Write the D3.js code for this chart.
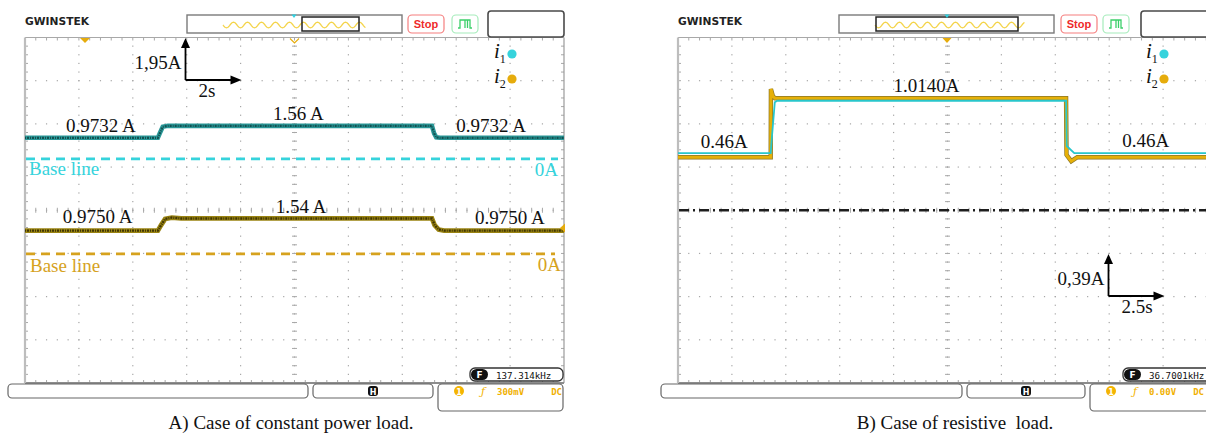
<!DOCTYPE html>
<html><head><meta charset="utf-8">
<script src="https://cdn.jsdelivr.net/npm/d3@7"></script>
<style>html,body{margin:0;padding:0;background:#fff;}svg{display:block;}</style>
</head><body>
<script>
// ---------------- DATA ----------------
// Panel A: constant power load (2 s/div, 1.95 A/div)
const a_i1_t = [0, 4.93, 5.00, 5.11, 5.30, 15.10, 15.18, 15.26, 15.40, 20];
const a_i1_v = [0.95, 0.95, 1.15, 1.45, 1.49, 1.49, 1.15, 0.97, 0.95, 0.95];
const a_i2_t = [0, 4.93, 5.05, 5.20, 5.45, 5.80, 15.10, 15.20, 15.35, 15.55, 20];
const a_i2_v = [1.05, 1.05, 1.30, 1.58, 1.64, 1.60, 1.60, 1.30, 1.10, 1.05, 1.05];
const a_labels = [
  {t: "0.9732 A", x: 1.52, v: 1.22, ch: 0},
  {t: "1.56 A", x: 9.2, v: 1.74, ch: 0},
  {t: "0.9732 A", x: 16.0, v: 1.22, ch: 0},
  {t: "0.9750 A", x: 1.4, v: 1.40, ch: 1},
  {t: "1.54 A", x: 9.3, v: 1.86, ch: 1},
  {t: "0.9750 A", x: 16.7, v: 1.34, ch: 1}
];
// Panel B: resistive load (2.5 s/div, 0.39 A/div)
const b_i1_t = [0, 4.30, 4.33, 4.49, 4.60, 18.00, 18.03, 18.38, 25];
const b_i1_v = [0.515, 0.515, 0.60, 0.975, 0.989, 0.989, 0.58, 0.515, 0.515];
const b_i2_t = [0, 4.30, 4.31, 4.40, 4.50, 18.00, 18.02, 18.24, 18.52, 25];
const b_i2_v = [0.479, 0.479, 1.095, 1.03, 1.011, 1.011, 0.50, 0.443, 0.479, 0.479];
const b_labels = [
  {t: "0.46A", x: 1.05, v: 0.56},
  {t: "1.0140A", x: 10.0, v: 1.065},
  {t: "0.46A", x: 20.6, v: 0.575}
];
const legendNames = ["1", "2"];
const captions = ["A) Case of constant power load.", "B) Case of resistive  load."];

// ---------------- SETUP ----------------
const W = 1206, H = 435;
const svg = d3.select("body").append("svg").attr("width", W).attr("height", H)
  .style("font-family", "'Liberation Serif','Times New Roman',serif");
svg.append("rect").attr("width", W).attr("height", H).attr("fill", "#fff");

const TEAL = "#36d3dc", GOLD = "#e6ac0c";
const GX = 539, GY0 = 37.5, GH = 345.5;

function drawGrid(g, x0) {
  const xd = d3.scaleLinear().domain([0, 10]).range([x0, x0 + GX]);
  const yd = d3.scaleLinear().domain([0, 8]).range([GY0 + GH, GY0]);
  const dots = [];
  for (let k = 1; k < 10; k++) d3.range(0.2, 8, 0.2).forEach(s => dots.push([xd(k), yd(s)]));
  for (let k = 1; k < 8; k++) d3.range(0.2, 10, 0.2).forEach(s => dots.push([xd(s), yd(k)]));
  g.append("g").selectAll("rect").data(dots).join("rect")
    .attr("x", d => d[0] - 0.6).attr("y", d => d[1] - 0.6).attr("width", 1.2).attr("height", 1.2)
    .attr("fill", "#a6a6a6");
  const tk = g.append("g").attr("stroke", "#a8a8a8").attr("stroke-width", 1);
  d3.range(0.2, 8, 0.2).forEach(s => {
    tk.append("line").attr("x1", xd(0)).attr("x2", xd(0) + 3).attr("y1", yd(s)).attr("y2", yd(s));
    tk.append("line").attr("x1", xd(10)).attr("x2", xd(10) - 3).attr("y1", yd(s)).attr("y2", yd(s));
    tk.append("line").attr("x1", xd(5) - 2.5).attr("x2", xd(5) + 2.5).attr("y1", yd(s)).attr("y2", yd(s));
  });
  d3.range(0.2, 10, 0.2).forEach(s => {
    tk.append("line").attr("x1", xd(s)).attr("x2", xd(s)).attr("y1", yd(0)).attr("y2", yd(0) - 3);
    tk.append("line").attr("x1", xd(s)).attr("x2", xd(s)).attr("y1", yd(8)).attr("y2", yd(8) + 3);
    tk.append("line").attr("x1", xd(s)).attr("x2", xd(s)).attr("y1", yd(4) - 2.5).attr("y2", yd(4) + 2.5);
  });
  g.append("line").attr("x1", x0 + GX).attr("x2", x0 + GX).attr("y1", GY0).attr("y2", GY0 + GH).attr("stroke", "#9a9a9a").attr("stroke-width", 1.2);
  g.append("line").attr("x1", x0).attr("x2", x0 + GX).attr("y1", GY0).attr("y2", GY0).attr("stroke", "#a8a8a8").attr("stroke-width", 1.2);
  g.append("line").attr("x1", x0).attr("x2", x0 + GX).attr("y1", GY0 + GH).attr("y2", GY0 + GH).attr("stroke", "#8c8c8c").attr("stroke-width", 2);
  g.append("line").attr("x1", x0).attr("x2", x0).attr("y1", GY0).attr("y2", GY0 + GH).attr("stroke", "#bdbdbd").attr("stroke-width", 2.2);
}

function wave(g, xa, xb, yc) {
  const pts = d3.range(xa, xb, 0.5).map(x => [x, yc + 2.8 * Math.sin((x - xa) / 14 * 2 * Math.PI)]);
  g.append("path").attr("d", d3.line()(pts)).attr("fill", "none").attr("stroke", "#f4d44a").attr("stroke-width", 1.3);
}

function header(g, x0, ov, inner, stopX, greenX, boxX, markX) {
  g.append("text").attr("x", x0).attr("y", 25).attr("font-family", "'DejaVu Sans',sans-serif")
    .attr("font-weight", "900").attr("font-size", 10.5).attr("textLength", 64).attr("lengthAdjust", "spacingAndGlyphs")
    .attr("fill", "#222").text("GWINSTEK");
  g.append("rect").attr("x", ov[0]).attr("y", 15).attr("width", ov[1] - ov[0]).attr("height", 18)
    .attr("fill", "#fff").attr("stroke", "#7a7a7a").attr("stroke-width", 1.4);
  wave(g, ov[0] + 36, inner[1] + 7, 25);
  g.append("rect").attr("x", inner[0]).attr("y", 17).attr("width", inner[1] - inner[0]).attr("height", 14)
    .attr("fill", "none").attr("stroke", "#222").attr("stroke-width", 1.5);
  g.append("path").attr("d", `M${markX - 2.5},14.5 L${markX + 2.5},14.5 L${markX},18 Z`).attr("fill", "#2fd0e0");
  g.append("rect").attr("x", stopX).attr("y", 15).attr("width", 36).attr("height", 18).attr("rx", 4)
    .attr("fill", "#fff").attr("stroke", "#f57f7f").attr("stroke-width", 1.2);
  g.append("text").attr("x", stopX + 18).attr("y", 28).attr("text-anchor", "middle")
    .attr("font-family", "'Liberation Sans',Arial,sans-serif").attr("font-weight", "bold").attr("font-size", 11)
    .attr("fill", "#ee2a2a").text("Stop");
  g.append("rect").attr("x", greenX).attr("y", 15).attr("width", 26).attr("height", 18).attr("rx", 4)
    .attr("fill", "#fff").attr("stroke", "#a6ecbb").attr("stroke-width", 1.2);
  const gx = greenX + 6;
  g.append("path").attr("d", `M${gx},28 H${gx + 2} V20 H${gx + 7} V28 M${gx + 7},20 H${gx + 12} V28 H${gx + 14} M${gx + 9.5},20 V28`)
    .attr("fill", "none").attr("stroke", "#3ccf6a").attr("stroke-width", 1.3);
  g.append("rect").attr("x", boxX).attr("y", 11).attr("width", 76).attr("height", 26).attr("rx", 3)
    .attr("fill", "#fff").attr("stroke", "#4a4a4a").attr("stroke-width", 1.6);
}

function footer(g, b1, b2, b3, fbox, freq, volt) {
  const st = {fill: "#fff", stroke: "#666", "stroke-width": 1.2};
  const R = (x, y, w, h, rx) => { const r = g.append("rect").attr("x", x).attr("y", y).attr("width", w).attr("height", h).attr("rx", rx); Object.entries(st).forEach(([k, v]) => r.attr(k, v)); return r; };
  R(b1[0], 384, b1[1] - b1[0], 14, 4);
  R(b2[0], 384, b2[1] - b2[0], 14, 4);
  R(b3, 384, 125, 27, 4);
  const hx = (b2[0] + b2[1]) / 2;
  g.append("rect").attr("x", hx - 5).attr("y", 386).attr("width", 10).attr("height", 10).attr("rx", 3).attr("fill", "#111");
  g.append("text").attr("x", hx).attr("y", 394.5).attr("text-anchor", "middle").attr("font-family", "'DejaVu Sans',sans-serif")
    .attr("font-weight", "bold").attr("font-size", 8).attr("fill", "#fff").text("H");
  g.append("rect").attr("x", fbox).attr("y", 368).attr("width", 93).attr("height", 13).attr("rx", 5)
    .attr("fill", "#fff").attr("stroke", "#333").attr("stroke-width", 1.3);
  g.append("rect").attr("x", fbox + 1).attr("y", 369).attr("width", 17).attr("height", 11).attr("rx", 5.5).attr("fill", "#111");
  g.append("text").attr("x", fbox + 9.5).attr("y", 378).attr("text-anchor", "middle").attr("font-family", "'DejaVu Sans',sans-serif")
    .attr("font-weight", "bold").attr("font-size", 9).attr("fill", "#fff").text("F");
  g.append("text").attr("x", fbox + 26).attr("y", 378.5).attr("font-family", "'DejaVu Sans Mono',monospace")
    .attr("font-size", 9.2).attr("fill", "#111").text(freq);
  g.append("circle").attr("cx", b3 + 21).attr("cy", 391).attr("r", 5).attr("fill", "#f4b400");
  g.append("text").attr("x", b3 + 21).attr("y", 394.5).attr("text-anchor", "middle").attr("font-family", "'DejaVu Sans',sans-serif")
    .attr("font-weight", "bold").attr("font-size", 8).attr("fill", "#fff").text("1");
  g.append("text").attr("x", b3 + 43).attr("y", 395).attr("font-family", "'DejaVu Serif',serif").attr("font-style", "italic")
    .attr("font-size", 11).attr("fill", "#f4b400").text("ƒ");
  g.append("text").attr("x", b3 + 59).attr("y", 394.5).attr("font-family", "'DejaVu Sans Mono',monospace").attr("font-weight", "bold")
    .attr("font-size", 9).attr("fill", "#f0b000").text(volt);
  g.append("text").attr("x", Math.min(b3 + 124, 1204)).attr("y", 394.5).attr("text-anchor", "end").attr("font-family", "'DejaVu Sans Mono',monospace").attr("font-weight", "bold")
    .attr("font-size", 9).attr("fill", "#f0b000").text("DC");
}

function legend(g, x) {
  const cols = [TEAL, GOLD];
  [58, 83].forEach((y, i) => {
    const t = g.append("text").attr("x", x).attr("y", y).attr("font-size", 21).attr("font-style", "italic").attr("fill", "#111").text("i");
    t.append("tspan").attr("dy", 5).attr("font-size", 12).attr("font-style", "normal").text(legendNames[i]);
    g.append("circle").attr("cx", x + 18).attr("cy", y - 4).attr("r", 4.6).attr("fill", cols[i]);
  });
}

function arrowAnno(g, ox, oy, lab1, lab2) {
  g.append("line").attr("x1", ox).attr("x2", ox).attr("y1", oy).attr("y2", oy - 34).attr("stroke", "#000").attr("stroke-width", 1.8);
  g.append("path").attr("d", `M${ox},${oy - 42} L${ox - 4.5},${oy - 32} L${ox + 4.5},${oy - 32} Z`).attr("fill", "#000");
  g.append("line").attr("x1", ox).attr("x2", ox + 46).attr("y1", oy).attr("y2", oy).attr("stroke", "#000").attr("stroke-width", 1.8);
  g.append("path").attr("d", `M${ox + 56},${oy} L${ox + 45},${oy - 4.5} L${ox + 45},${oy + 4.5} Z`).attr("fill", "#000");
  g.append("text").attr("x", ox - 4).attr("y", oy - 11).attr("text-anchor", "end").attr("font-size", 19).attr("fill", "#111").text(lab1);
  g.append("text").attr("x", ox + 13).attr("y", oy + 16.5).attr("font-size", 19).attr("fill", "#111").text(lab2);
}

// ---------------- PANEL A ----------------
const A0 = 25;
const gA = svg.append("g");
drawGrid(gA, A0);
header(gA, 25, [187, 402], [302, 359], 408, 452, 488, 294);
const xA = d3.scaleLinear().domain([0, 20]).range([A0, A0 + GX]);
const divA = 1.95;
const offA = [5.19, 2.99];
const yA = offA.map(o => d3.scaleLinear().domain([-o * divA, (8 - o) * divA]).range([GY0 + GH, GY0]));
[[TEAL, 0, A0 + 533], ["#d6a21e", 1, A0 + 530]].forEach(([c, ch, xe]) => {
  gA.append("line").attr("x1", A0 + 1).attr("x2", xe).attr("y1", yA[ch](0)).attr("y2", yA[ch](0))
    .attr("stroke", c).attr("stroke-width", 2.6).attr("stroke-dasharray", "9,6");
});
const lineA = ch => d3.line().x(d => xA(d[0])).y(d => yA[ch](d[1]));
const sA1 = d3.zip(a_i1_t, a_i1_v), sA2 = d3.zip(a_i2_t, a_i2_v);
gA.append("path").attr("d", lineA(0)(sA1)).attr("fill", "none").attr("stroke", "#2a9898").attr("stroke-width", 4.6);
gA.append("path").attr("d", lineA(0)(sA1)).attr("fill", "none").attr("stroke", "#0c3a3a").attr("stroke-width", 2.2).attr("stroke-opacity", 0.75).attr("stroke-dasharray", "1,1,2,1");
gA.append("path").attr("d", lineA(1)(sA2)).attr("fill", "none").attr("stroke", "#9a8412").attr("stroke-width", 4.8);
gA.append("path").attr("d", lineA(1)(sA2)).attr("fill", "none").attr("stroke", "#2a2300").attr("stroke-width", 2.4).attr("stroke-opacity", 0.8).attr("stroke-dasharray", "1,1,2,1");
gA.append("path").attr("d", `M80,38 L90,38 L85,43 Z`).attr("fill", GOLD);
gA.append("path").attr("d", `M290,38.5 L294.5,43 L299,38.5`).attr("fill", "none").attr("stroke", GOLD).attr("stroke-width", 1.1);
gA.append("path").attr("d", `M${A0 + GX + 1},223.5 L${A0 + GX + 1},232.5 L${A0 + GX - 4},228 Z`).attr("fill", GOLD);
a_labels.forEach(l => gA.append("text").attr("x", xA(l.x)).attr("y", yA[l.ch](l.v)).attr("font-size", 19).attr("fill", "#111").text(l.t));
gA.append("text").attr("x", 29).attr("y", yA[0](0) + 16.5).attr("font-size", 19).attr("fill", TEAL).text("Base line");
gA.append("text").attr("x", 558).attr("y", yA[0](0) + 17).attr("text-anchor", "end").attr("font-size", 19).attr("fill", TEAL).text("0A");
gA.append("text").attr("x", 30).attr("y", yA[1](0) + 18.5).attr("font-size", 19).attr("fill", "#d6a21e").text("Base line");
gA.append("text").attr("x", 561).attr("y", yA[1](0) + 17.5).attr("text-anchor", "end").attr("font-size", 19).attr("fill", "#d6a21e").text("0A");
legend(gA, 494);
arrowAnno(gA, 185.5, 80, "1,95A", "2s");
footer(gA, [8, 308], [313, 433], 438, 470, "137.314kHz", "300mV");
gA.append("text").attr("x", 291).attr("y", 429).attr("text-anchor", "middle").attr("font-size", 19).attr("fill", "#111").text(captions[0]);

// ---------------- PANEL B ----------------
const B0 = 678;
const gB = svg.append("g");
drawGrid(gB, B0);
header(gB, 678, [839, 1054], [876, 1018], 1061, 1103, 1141, 947);
const xB = d3.scaleLinear().domain([0, 25]).range([B0, B0 + GX]);
const divB = 0.39, offB = 4.0;
const yB = d3.scaleLinear().domain([-offB * divB, (8 - offB) * divB]).range([GY0 + GH, GY0]);
gB.append("line").attr("x1", B0 + 1).attr("x2", W).attr("y1", yB(0)).attr("y2", yB(0))
  .attr("stroke", "#1e1e1e").attr("stroke-width", 2.6).attr("stroke-dasharray", "10,4,2,4");
const lineB = d3.line().x(d => xB(d[0])).y(d => yB(d[1]));
const sB1 = d3.zip(b_i1_t, b_i1_v), sB2 = d3.zip(b_i2_t, b_i2_v);
gB.append("path").attr("d", lineB(sB2)).attr("fill", "none").attr("stroke", "#8a7628").attr("stroke-width", 4.4);
gB.append("path").attr("d", lineB(sB2)).attr("fill", "none").attr("stroke", "#e6b008").attr("stroke-width", 3.0);
gB.append("path").attr("d", lineB(sB1)).attr("fill", "none").attr("stroke", "#28c6cc").attr("stroke-width", 1.8);
gB.append("path").attr("d", `M942.5,38 L951.5,38 L947,43 Z`).attr("fill", GOLD);
b_labels.forEach(l => gB.append("text").attr("x", xB(l.x)).attr("y", yB(l.v)).attr("font-size", 19).attr("fill", "#111").text(l.t));
legend(gB, 1146);
arrowAnno(gB, 1108.5, 296, "0,39A", "2.5s");
footer(gB, [661, 962], [967, 1085], 1090, 1123, "36.7001kHz", "0.00V");
gB.append("text").attr("x", 955).attr("y", 429).attr("text-anchor", "middle").attr("font-size", 19).attr("fill", "#111").style("white-space", "pre").text(captions[1]);
</script>
</body></html>
